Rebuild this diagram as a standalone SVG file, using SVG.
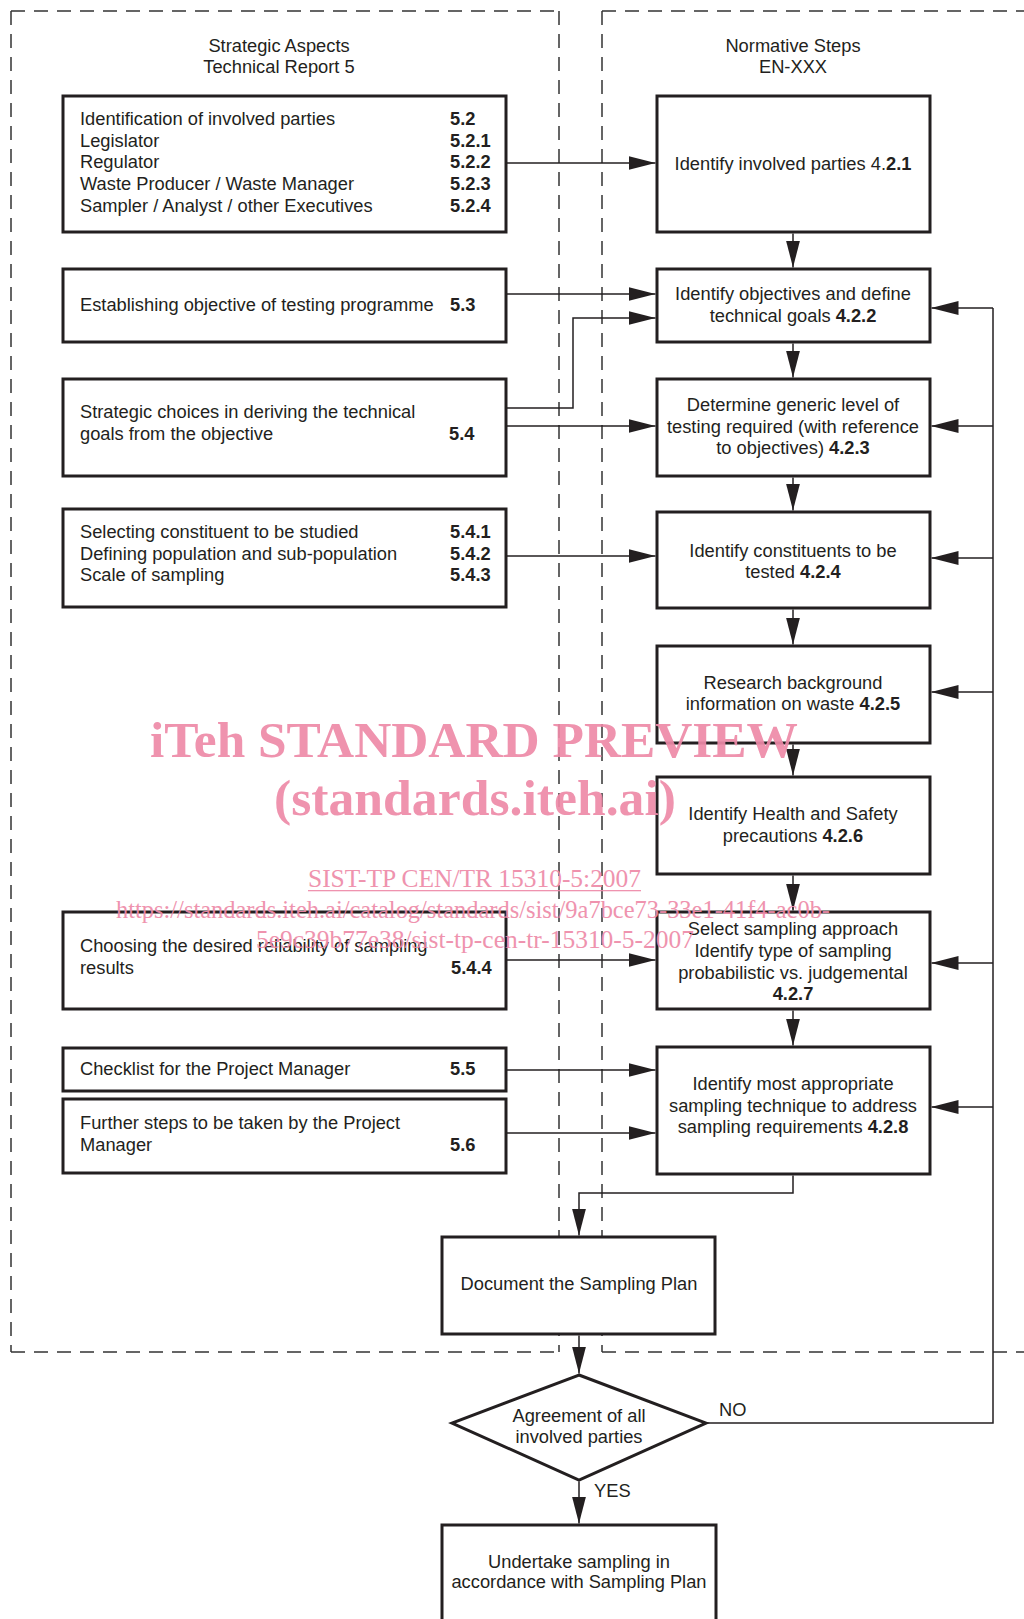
<svg xmlns="http://www.w3.org/2000/svg" width="1024" height="1619" viewBox="0 0 1024 1619">
<defs>
<marker id="ah" markerUnits="userSpaceOnUse" markerWidth="27" markerHeight="14" viewBox="0 0 27 14" refX="27" refY="7" orient="auto">
<path d="M0,0 L27,7 L0,14 Z" fill="#231f20"/>
</marker>
<style>
.box{fill:#fff;stroke:#231f20;stroke-width:3}
.dash{fill:none;stroke:#333;stroke-width:1.5;stroke-dasharray:14 9}
.con{fill:none;stroke:#231f20;stroke-width:1.5}
.arr{marker-end:url(#ah)}
text{font-family:"Liberation Sans",Arial,sans-serif;font-size:18.3px;fill:#231f20}
.c{text-anchor:middle}
.b{font-weight:bold}
text.wm{font-family:"Liberation Serif","Times New Roman",serif;fill:#ee8aa8;opacity:0.92}
text.wmb{font-size:50px;font-weight:bold}
text.wms{font-size:25px}
</style>
</defs>
<rect width="1024" height="1619" fill="#fff"/>

<g id="panels">
<path class="dash" d="M11,11 H559 M11,11 V1352 M11,1352 H559 M559,11 V1352"/>
<path class="dash" d="M602,11 H1024 M602,11 V1352 M602,1352 H1024"/>
<text class="c" x="279" y="52">Strategic Aspects</text>
<text class="c" x="279" y="73">Technical Report 5</text>
<text class="c" x="793" y="52">Normative Steps</text>
<text class="c" x="793" y="73">EN-XXX</text>
</g>

<g id="connectors">
<path class="con arr" d="M506,163 H655.5"/>
<path class="con arr" d="M506,294 H655.5"/>
<path class="con arr" d="M506,408 H573 V318 H655.5"/>
<path class="con arr" d="M506,426 H655.5"/>
<path class="con arr" d="M506,556 H655.5"/>
<path class="con arr" d="M506,960 H655.5"/>
<path class="con arr" d="M506,1070 H655.5"/>
<path class="con arr" d="M506,1133 H655.5"/>
<path class="con arr" d="M793,233.5 V267.5"/>
<path class="con arr" d="M793,343.5 V377.5"/>
<path class="con arr" d="M793,477.5 V510.5"/>
<path class="con arr" d="M793,609.5 V644.5"/>
<path class="con arr" d="M793,744.5 V775.5"/>
<path class="con arr" d="M793,875.5 V910.5"/>
<path class="con arr" d="M793,1010.5 V1045.5"/>
<path class="con arr" d="M793,1175.5 V1193 H579 V1235.5"/>
<path class="con arr" d="M579,1335.5 V1373.5"/>
<path class="con arr" d="M579,1481.5 V1523.5"/>
<path class="con" d="M706,1423 H993 V308"/>
<path class="con arr" d="M993,308 H931.5"/>
<path class="con arr" d="M993,426 H931.5"/>
<path class="con arr" d="M993,558 H931.5"/>
<path class="con arr" d="M993,692 H931.5"/>
<path class="con arr" d="M993,963 H931.5"/>
<path class="con arr" d="M993,1107 H931.5"/>
<text x="719" y="1416">NO</text>
<text x="594" y="1497">YES</text>
</g>

<g id="L1">
<rect class="box" x="63" y="96" width="443" height="136"/>
<text x="80" y="125">Identification of involved parties</text>
<text x="80" y="146.7">Legislator</text>
<text x="80" y="168.3">Regulator</text>
<text x="80" y="190">Waste Producer / Waste Manager</text>
<text x="80" y="211.7">Sampler / Analyst / other Executives</text>
<text class="b" x="450" y="125">5.2</text>
<text class="b" x="450" y="146.7">5.2.1</text>
<text class="b" x="450" y="168.3">5.2.2</text>
<text class="b" x="450" y="190">5.2.3</text>
<text class="b" x="450" y="211.7">5.2.4</text>
</g>
<g id="L2">
<rect class="box" x="63" y="269" width="443" height="73"/>
<text x="80" y="311">Establishing objective of testing programme</text>
<text class="b" x="450" y="311">5.3</text>
</g>
<g id="L3">
<rect class="box" x="63" y="379" width="443" height="97"/>
<text x="80" y="418">Strategic choices in deriving the technical</text>
<text x="80" y="440">goals from the objective</text>
<text class="b" x="449" y="440">5.4</text>
</g>
<g id="L4">
<rect class="box" x="63" y="509" width="443" height="98"/>
<text x="80" y="538">Selecting constituent to be studied</text>
<text x="80" y="559.7">Defining population and sub-population</text>
<text x="80" y="581">Scale of sampling</text>
<text class="b" x="450" y="538">5.4.1</text>
<text class="b" x="450" y="559.7">5.4.2</text>
<text class="b" x="450" y="581">5.4.3</text>
</g>
<g id="L5">
<rect class="box" x="63" y="912" width="443" height="97"/>
<text x="80" y="952">Choosing the desired reliability of sampling</text>
<text x="80" y="974">results</text>
<text class="b" x="451" y="974">5.4.4</text>
</g>
<g id="L6">
<rect class="box" x="63" y="1048" width="443" height="43"/>
<text x="80" y="1075">Checklist for the Project Manager</text>
<text class="b" x="450" y="1075">5.5</text>
</g>
<g id="L7">
<rect class="box" x="63" y="1099" width="443" height="74"/>
<text x="80" y="1129">Further steps to be taken by the Project</text>
<text x="80" y="1151">Manager</text>
<text class="b" x="450" y="1151">5.6</text>
</g>

<g id="R1">
<rect class="box" x="657" y="96" width="273" height="136"/>
<text class="c" x="793" y="170">Identify involved parties 4.<tspan class="b">2.1</tspan></text>
</g>
<g id="R2">
<rect class="box" x="657" y="269" width="273" height="73"/>
<text class="c" x="793" y="300">Identify objectives and define</text>
<text class="c" x="793" y="322">technical goals <tspan class="b">4.2.2</tspan></text>
</g>
<g id="R3">
<rect class="box" x="657" y="379" width="273" height="97"/>
<text class="c" x="793" y="411">Determine generic level of</text>
<text class="c" x="793" y="432.5">testing required (with reference</text>
<text class="c" x="793" y="454">to objectives) <tspan class="b">4.2.3</tspan></text>
</g>
<g id="R4">
<rect class="box" x="657" y="512" width="273" height="96"/>
<text class="c" x="793" y="557">Identify constituents to be</text>
<text class="c" x="793" y="578">tested <tspan class="b">4.2.4</tspan></text>
</g>
<g id="R5">
<rect class="box" x="657" y="646" width="273" height="97"/>
<text class="c" x="793" y="689">Research background</text>
<text class="c" x="793" y="710">information on waste <tspan class="b">4.2.5</tspan></text>
</g>
<g id="R6">
<rect class="box" x="657" y="777" width="273" height="97"/>
<text class="c" x="793" y="820">Identify Health and Safety</text>
<text class="c" x="793" y="842">precautions <tspan class="b">4.2.6</tspan></text>
</g>
<g id="R7">
<rect class="box" x="657" y="912" width="273" height="97"/>
<text class="c" x="793" y="935">Select sampling approach</text>
<text class="c" x="793" y="957">Identify type of sampling</text>
<text class="c" x="793" y="979">probabilistic vs. judgemental</text>
<text class="c b" x="793" y="1000">4.2.7</text>
</g>
<g id="R8">
<rect class="box" x="657" y="1047" width="273" height="127"/>
<text class="c" x="793" y="1090">Identify most appropriate</text>
<text class="c" x="793" y="1111.5">sampling technique to address</text>
<text class="c" x="793" y="1133">sampling requirements <tspan class="b">4.2.8</tspan></text>
</g>
<g id="Doc">
<rect class="box" x="442" y="1237" width="273" height="97"/>
<text class="c" x="579" y="1290">Document the Sampling Plan</text>
</g>
<g id="Decision">
<polygon class="box" points="579,1375 706,1423 579,1480 452,1423"/>
<text class="c" x="579" y="1422">Agreement of all</text>
<text class="c" x="579" y="1443">involved parties</text>
</g>
<g id="Final">
<rect class="box" x="442" y="1525" width="274" height="110"/>
<text class="c" x="579" y="1568">Undertake sampling in</text>
<text class="c" x="579" y="1588">accordance with Sampling Plan</text>
</g>

<g id="watermark">
<text class="wm wmb" x="150" y="757" textLength="648" lengthAdjust="spacingAndGlyphs">iTeh STANDARD PREVIEW</text>
<text class="wm wmb" x="274" y="815" textLength="402" lengthAdjust="spacingAndGlyphs">(standards.iteh.ai)</text>
<text class="wm wms" x="308" y="887" textLength="333" lengthAdjust="spacingAndGlyphs">SIST-TP CEN/TR 15310-5:2007</text>
<rect x="308" y="890" width="333" height="1.3" fill="#ee8aa8" opacity="0.92"/>
<text class="wm wms" x="116" y="918" textLength="714" lengthAdjust="spacingAndGlyphs">https://standards.iteh.ai/catalog/standards/sist/9a7bce73-33e1-41f4-ac0b-</text>
<text class="wm wms" x="256" y="948" textLength="438" lengthAdjust="spacingAndGlyphs">5e9c39b77e38/sist-tp-cen-tr-15310-5-2007</text>
</g>
</svg>
